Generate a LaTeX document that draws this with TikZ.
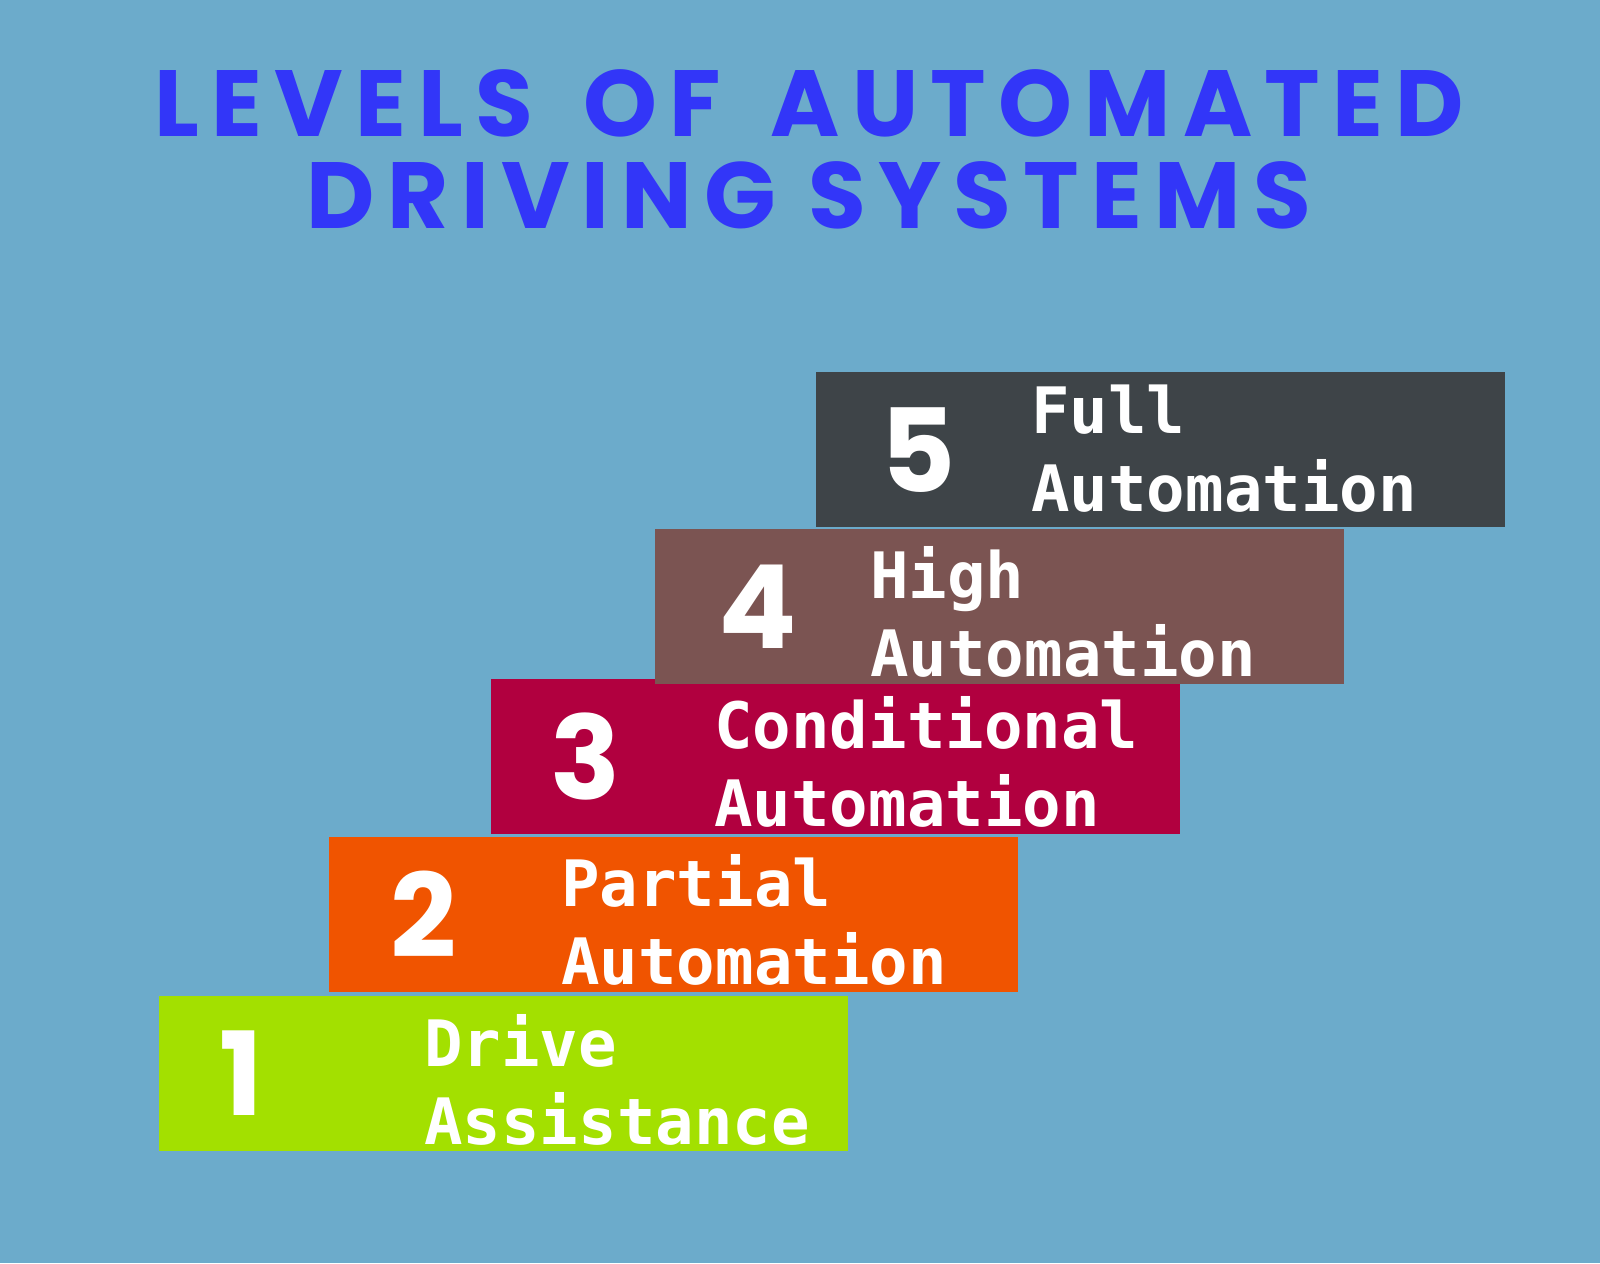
\documentclass[tikz,border=0pt]{standalone}
\usepackage{fontspec}
\usepackage{xcolor}
\usepackage{tikz}
\usetikzlibrary{positioning,calc}
\newfontfamily\headfont{Poppins}[LetterSpace=13]
\newfontfamily\digitfont{Poppins}
\newfontfamily\stepfont{DejaVu Sans Mono}
\definecolor{Sky}{HTML}{6CABCB}
\definecolor{TitleBlue}{HTML}{3236F8}
\definecolor{Lime}{HTML}{A3E000}
\definecolor{Tang}{HTML}{F05400}
\definecolor{Crimson}{HTML}{B1003F}
\definecolor{Cocoa}{HTML}{7B5452}
\definecolor{Slate}{HTML}{3E4448}

\begin{document}
\begin{tikzpicture}[x=0.5pt,y=0.5pt,
    stepbox/.style={fill=#1,draw=none,minimum width=344.5pt,minimum height=77.5pt,
      anchor=south west,inner sep=0pt},
    lvl/.style={text=white,inner sep=0pt,
      font=\digitfont\bfseries\fontsize{58}{58}\selectfont},
    lbl/.style={text=white,align=left,anchor=north west,inner sep=0pt,
      font=\stepfont\bfseries\fontsize{32}{39}\selectfont}]
  \useasboundingbox[fill=Sky] (0,0) rectangle (1600,1263);
  \node[anchor=north,align=center,inner sep=0pt,text=TitleBlue,
    font=\headfont\bfseries\fontsize{47}{46}\selectfont] (title) at (809,1194)
    {LEVELS\hspace{9pt} OF\hspace{9pt} AUTOMATED\\DRIVING SYSTEMS};
  % the five steps
  \node[stepbox=Lime] (L1) at (159,112) {};
  \node[stepbox=Tang] (L2) at ($(L1.north west)+(170,3)$) {};
  \node[stepbox=Crimson] (L3) at ($(L2.north west)+(162,2)$) {};
  \node[stepbox=Cocoa] (L4) at ($(L3.north west)+(164,-6)$) {};
  \node[stepbox=Slate] (L5) at ($(L4.north west)+(161,1)$) {};
  % level numbers
  \node[lvl] (n1) at ($(L1.west)+(82,0)$) {1};
  \node[lvl] (n2) at ($(L2.west)+(95,0)$) {2};
  \node[lvl] (n3) at ($(L3.west)+(95,0)$) {3};
  \node[lvl] (n4) at ($(L4.west)+(103,0)$) {4};
  \node[lvl] (n5) at ($(L5.west)+(102,0)$) {5};
  % level names
  \node[lbl] (t1) at ($(L1.north west)+(265,-19)$) {Drive\\Assistance};
  \node[lbl] (t2) at ($(L2.north west)+(232,-18)$) {Partial\\Automation};
  \node[lbl] (t3) at ($(L3.north west)+(223,-17)$) {Conditional\\Automation};
  \node[lbl] (t4) at ($(L4.north west)+(215,-17)$) {High\\Automation};
  \node[lbl] (t5) at ($(L5.north west)+(215,-12)$) {Full\\Automation};
\end{tikzpicture}
\end{document}
